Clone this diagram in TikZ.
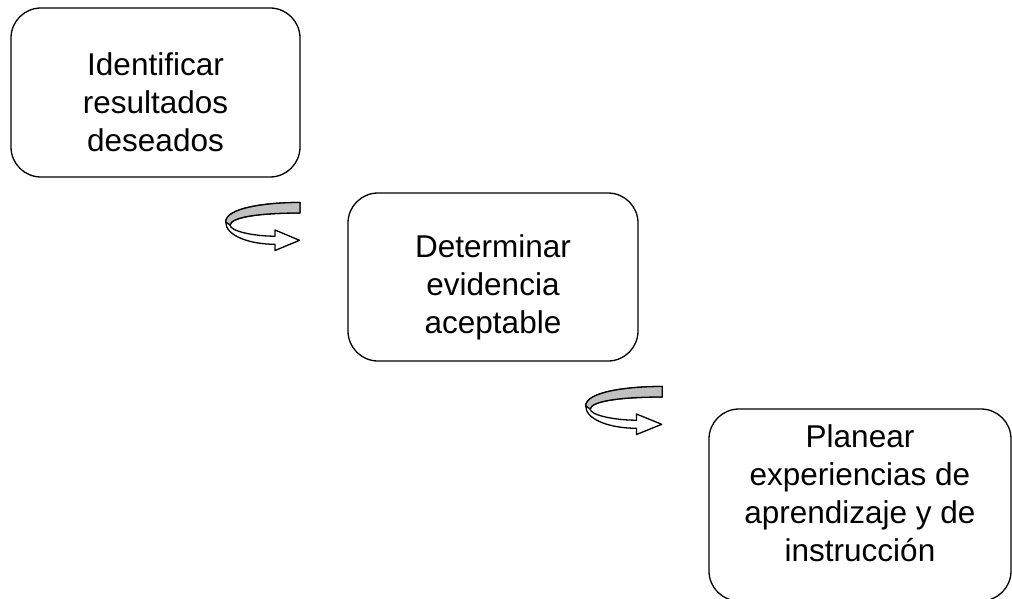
\documentclass[tikz,border=0pt]{standalone}
\usepackage{fontspec}
\setmainfont{Liberation Sans}
\definecolor{ribbongray}{RGB}{192,192,192}
\newcommand{\topgap}{\rule{0pt}{43pt}}
\newcommand{\bottomgap}{\rule[-24pt]{0pt}{1pt}}
\tikzset{
  box/.style={draw, line width=1.3pt, rounded corners=30pt, align=center,
    font=\fontsize{31.5}{38}\selectfont, inner sep=0pt},
  ribbonline/.style={draw, line width=1.3pt, line join=round},
  turnarrow/.pic={
    \path[ribbonline, fill=white] (75,2.5) .. controls (40,2.5) and (0.7,8) .. (0.7,22)
      .. controls (0.7,36) and (25,44.3) .. (50,44.3) -- (50,50.5) -- (74.5,40.3) -- (50,30) -- (50,36.2)
      .. controls (28,36.2) and (5,31) .. (5,25)
      .. controls (6,17) and (35,13) .. (75,13) -- cycle;
    \path[ribbonline, fill=ribbongray] (75,2.5) .. controls (40,2.5) and (0.7,8) .. (0.7,22)
      -- (5,25) .. controls (6,17) and (35,13) .. (75,13) -- cycle;
  }
}
\begin{document}
\begin{tikzpicture}[x=1pt,y=-1pt]
\useasboundingbox (0,0) rectangle (1012,599);
\clip (0,0) rectangle (1012,599);
\node[box, minimum width=289pt, minimum height=169pt] (b1) at (155.5,92.5)
  {\topgap Identificar\\resultados\\deseados};
\node[box, minimum width=290pt, minimum height=168pt] (b2) at (493,277)
  {\topgap Determinar\\evidencia\\aceptable};
\node[box, minimum width=302pt, minimum height=192pt] (b3) at (860,505)
  {Planear\\experiencias de\\aprendizaje y de\\instrucción\bottomgap};
\pic at (225,200) {turnarrow};
\pic[xscale=1.03] at (585,384) {turnarrow};
\end{tikzpicture}
\end{document}
